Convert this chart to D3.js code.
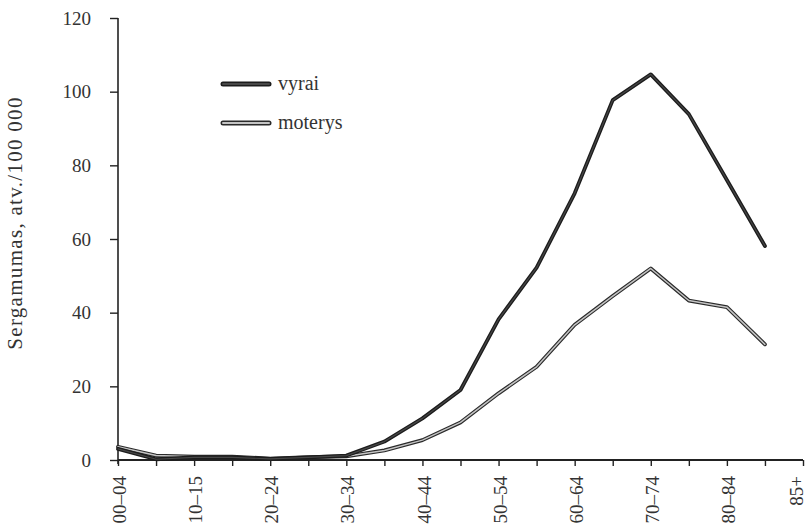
<!DOCTYPE html>
<html>
<head>
<meta charset="utf-8">
<script src="https://cdn.jsdelivr.net/npm/d3@7"></script>
<style>
  html, body { margin: 0; padding: 0; background: #fff; }
  svg text { font-family: "Liberation Serif", "Times New Roman", serif; fill: #333; }
</style>
</head>
<body>
<svg id="chart" width="807" height="528"></svg>
<script>
// Age groups; the axis carries one extra slot at the end for the "85+" label.
const ageGroups = ["00–04","05–09","10–15","15–19","20–24","25–29","30–34","35–39","40–44",
                   "45–49","50–54","55–59","60–64","65–69","70–74","75–79","80–84","85+"];
const axisLabels = ["00–04","","10–15","","20–24","","30–34","","40–44","",
                    "50–54","","60–64","","70–74","","80–84","","85+"];
// Incidence per 100 000 population
const vyrai   = [3.0, 0.2, 0.7, 0.7, 0.3, 0.7, 1.2, 5.0, 11.3, 19.0, 38.2, 52.2, 72.4, 97.7, 104.7, 93.9, 76.0, 58.1];
const moterys = [3.6, 1.2, 0.9, 0.9, 0.4, 0.8, 1.0, 2.6, 5.4, 10.2, 18.1, 25.3, 36.7, 44.5, 52.0, 43.3, 41.5, 31.4];
const yTicks  = [0, 20, 40, 60, 80, 100, 120];
const seriesNames = ["vyrai", "moterys"];

const svg = d3.select("#chart");
const plotLeft = 118, plotRight = 803, plotTop = 18, plotBottom = 460;

const x = d3.scalePoint().domain(d3.range(axisLabels.length)).range([plotLeft, plotRight]);
const y = d3.scaleLinear().domain([0, 120]).range([plotBottom, plotTop]);

// y axis
const yAxis = svg.append("g")
  .attr("transform", `translate(${plotLeft},0)`)
  .call(d3.axisLeft(y).tickValues(yTicks).tickSize(8).tickPadding(19));
yAxis.select(".domain").attr("stroke", "#222").attr("stroke-width", 1.6).attr("d", `M0,${plotTop}V${plotBottom + 4}`);
yAxis.selectAll(".tick line").attr("stroke", "#222").attr("stroke-width", 1.4);
yAxis.selectAll(".tick text").style("font-size", "19px").attr("fill", "#333");

// x axis
const xAxis = svg.append("g")
  .attr("transform", `translate(0,${plotBottom})`)
  .call(d3.axisBottom(x).tickSize(6).tickFormat(i => axisLabels[i]));
xAxis.select(".domain").attr("stroke", "#222").attr("stroke-width", 2).attr("d", `M${plotLeft},0H${plotRight}`);
xAxis.selectAll(".tick line").attr("stroke", "#222").attr("stroke-width", 1.4);
xAxis.selectAll(".tick text")
  .style("font-size", "19px")
  .attr("text-anchor", "end")
  .attr("transform", "rotate(-90)")
  .attr("x", -16)
  .attr("y", (d, i) => i === axisLabels.length - 1 ? -7 : 1)
  .attr("dy", "0.35em");

// axis title
svg.append("text")
  .attr("transform", `translate(22,223) rotate(-90)`)
  .attr("text-anchor", "middle")
  .style("font-size", "21px")
  .style("letter-spacing", "1.3px")
  .text("Sergamumas, atv./100 000");

// lines: dark casing with a lighter core
const styles = {
  vyrai:   { outer: "#1c1c1c", inner: "#474747", ow: 3.8, iw: 1.2 },
  moterys: { outer: "#2a2a2a", inner: "#c4c4c4", ow: 3.8, iw: 1.5 }
};
const line = d3.line().x((d, i) => x(i)).y(d => y(d));
const series = { vyrai, moterys };

["moterys", "vyrai"].forEach(name => {
  const s = styles[name];
  svg.append("path").datum(series[name]).attr("d", line)
    .attr("fill", "none").attr("stroke", s.outer).attr("stroke-width", s.ow)
    .attr("stroke-linejoin", "round").attr("stroke-linecap", "round");
  svg.append("path").datum(series[name]).attr("d", line)
    .attr("fill", "none").attr("stroke", s.inner).attr("stroke-width", s.iw)
    .attr("stroke-linejoin", "round").attr("stroke-linecap", "round");
});

// legend
const legend = svg.append("g");
seriesNames.forEach((name, k) => {
  const s = styles[name];
  const ly = 84 + k * 39;
  legend.append("line").attr("x1", 223).attr("x2", 269).attr("y1", ly).attr("y2", ly)
    .attr("stroke", s.outer).attr("stroke-width", 5).attr("stroke-linecap", "round");
  legend.append("line").attr("x1", 223).attr("x2", 269).attr("y1", ly).attr("y2", ly)
    .attr("stroke", s.inner).attr("stroke-width", 2).attr("stroke-linecap", "round");
  legend.append("text").attr("x", 278).attr("y", ly).attr("dy", "0.3em")
    .style("font-size", "20px").text(name);
});
</script>
</body>
</html>
